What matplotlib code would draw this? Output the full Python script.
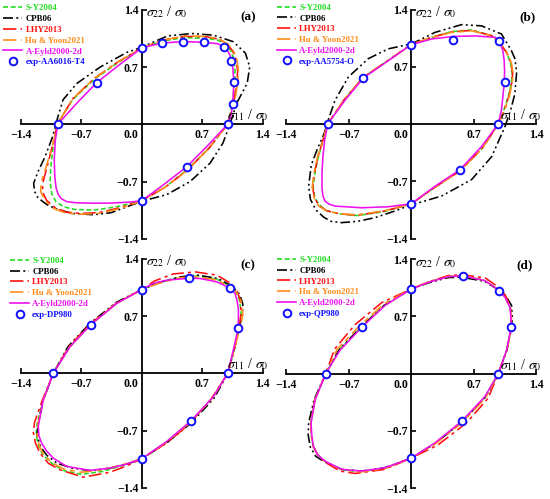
import matplotlib
matplotlib.use("Agg")
import matplotlib.pyplot as plt
from matplotlib.lines import Line2D

plt.rcParams['font.family'] = ['Liberation Serif', 'DejaVu Serif']
plt.rcParams['mathtext.fontset'] = 'stix'

# ---------------- data (normalized stresses) ----------------
TICKS = [-1.4, -0.7, 0.7, 1.4]
TICK_LABELS_X = ['\u22121.4', '\u22120.7', '0.7', '1.4']
TICK_LABELS_Y = ['\u22121.4', '\u22120.7', '0.7', '1.4']
MODEL_NAMES = ['S-Y2004', 'CPB06', 'LHY2013', 'Hu & Yoon2021', 'A-Eyld2000-2d']
PANEL_TAGS = ['(a)', '(b)', '(c)', '(d)']
EXP_NAMES = ['exp-AA6016-T4', 'exp-AA5754-O', 'exp-DP980', 'exp-QP980']

# ---- panel (a) AA6016-T4 ----
A_EXP_X = [0.0, 0.235, 0.479, 0.725, 0.948, 1.036, 1.064, 1.052, 0.994, 0.52, 0.0, -0.972, -0.52]
A_EXP_Y = [0.933, 0.994, 1.011, 1.003, 0.945, 0.775, 0.519, 0.251, 0.0, -0.52, -0.935, 0.0, 0.51]
A_EY_X = [0.994, 1.035, 1.054, 1.066, 1.055, 1.039, 1.015, 0.985, 0.948, 0.88, 0.725, 0.479, 0.235, 0.1, 0.0, -0.263, -0.52, -0.753, -0.972, -1.0, -1.012, -1.005, -0.99, -0.965, -0.93, -0.869, -0.75, -0.55, -0.35, -0.135, 0.0, 0.251, 0.52, 0.753, 0.994]
A_EY_Y = [0.0, 0.12, 0.251, 0.519, 0.68, 0.775, 0.86, 0.91, 0.945, 0.985, 1.003, 1.011, 0.994, 0.96, 0.933, 0.724, 0.51, 0.256, 0.0, -0.2, -0.435, -0.65, -0.78, -0.86, -0.91, -0.945, -0.96, -0.965, -0.963, -0.951, -0.935, -0.74, -0.52, -0.272, 0.0]
A_SY_X = [0.994, 1.05, 1.075, 1.08, 1.065, 1.03, 0.97, 0.88, 0.75, 0.5, 0.25, 0.0, -0.28, -0.55, -0.8, -0.98, -1.02, -1.05, -1.06, -1.04, -0.99, -0.9, -0.78, -0.56, -0.3, 0.0, 0.27, 0.53, 0.78, 0.994]
A_SY_Y = [0.0, 0.25, 0.5, 0.65, 0.8, 0.9, 0.98, 1.03, 1.05, 1.06, 1.02, 0.933, 0.75, 0.55, 0.3, 0.0, -0.25, -0.5, -0.7, -0.85, -0.95, -1.01, -1.04, -1.05, -1.01, -0.935, -0.77, -0.55, -0.29, 0.0]
A_HY_X = [0.994, 1.07, 1.11, 1.12, 1.1, 1.06, 1.0, 0.9, 0.75, 0.5, 0.25, 0.0, -0.28, -0.55, -0.8, -0.975, -1.03, -1.1, -1.16, -1.17, -1.12, -1.02, -0.88, -0.7, -0.5, -0.25, 0.0, 0.27, 0.53, 0.78, 0.994]
A_HY_Y = [0.0, 0.25, 0.5, 0.65, 0.8, 0.9, 0.98, 1.04, 1.075, 1.08, 1.03, 0.933, 0.76, 0.56, 0.31, 0.0, -0.25, -0.5, -0.7, -0.82, -0.93, -1.03, -1.085, -1.1, -1.09, -1.03, -0.935, -0.77, -0.56, -0.29, 0.0]
A_LHY_X = [0.994, 1.06, 1.1, 1.11, 1.09, 1.05, 0.99, 0.9, 0.75, 0.5, 0.25, 0.0, -0.28, -0.55, -0.8, -0.975, -1.03, -1.09, -1.14, -1.15, -1.1, -1.0, -0.87, -0.7, -0.5, -0.25, 0.0, 0.27, 0.53, 0.78, 0.994]
A_LHY_Y = [0.0, 0.25, 0.5, 0.65, 0.8, 0.9, 0.98, 1.04, 1.07, 1.075, 1.03, 0.933, 0.76, 0.56, 0.31, 0.0, -0.25, -0.5, -0.7, -0.82, -0.93, -1.02, -1.075, -1.09, -1.08, -1.02, -0.935, -0.77, -0.56, -0.29, 0.0]
A_CPB_X = [1.02, 1.1, 1.22, 1.25, 1.2, 1.06, 0.83, 0.58, 0.3, 0.1, 0.0, -0.17, -0.48, -0.75, -0.91, -0.97, -1.03, -1.12, -1.2, -1.25, -1.24, -1.2, -1.1, -0.98, -0.8, -0.56, -0.35, -0.15, 0.0, 0.29, 0.56, 0.79, 0.94, 1.02]
A_CPB_Y = [0.0, 0.26, 0.5, 0.7, 0.87, 1.01, 1.09, 1.11, 1.08, 0.99, 0.94, 0.88, 0.70, 0.5, 0.30, 0.09, -0.15, -0.4, -0.58, -0.72, -0.82, -0.9, -0.98, -1.04, -1.09, -1.106, -1.08, -1.0, -0.94, -0.86, -0.70, -0.476, -0.23, 0.0]

# ---- panel (b) AA5754-O ----
B_EXP_X = [0.0, 0.466, 0.978, 1.049, 0.974, 0.545, 0.0, -0.937, -0.537]
B_EXP_Y = [0.972, 1.028, 1.016, 0.514, 0.0, -0.559, -0.976, 0.0, 0.563]
B_EY_X = [0.974, 1.01, 1.04, 1.045, 1.04, 1.025, 1.0, 0.94, 0.71, 0.466, 0.23, 0.1, 0.0, -0.269, -0.537, -0.743, -0.937, -0.97, -0.99, -1.0, -1.0, -0.99, -0.966, -0.92, -0.854, -0.556, -0.257, 0.0, 0.265, 0.545, 0.787, 0.974]
B_EY_Y = [0.0, 0.17, 0.49, 0.65, 0.78, 0.9, 0.98, 1.06, 1.077, 1.07, 1.04, 1.0, 0.972, 0.765, 0.563, 0.29, 0.0, -0.194, -0.4, -0.6, -0.78, -0.88, -0.943, -0.98, -1.004, -1.024, -1.012, -0.976, -0.761, -0.559, -0.275, 0.0]
B_SY_X = [0.974, 1.03, 1.09, 1.12, 1.13, 1.11, 1.07, 1.0, 0.9, 0.675, 0.45, 0.2, 0.0, -0.27, -0.54, -0.75, -0.937, -0.99, -1.04, -1.08, -1.1, -1.08, -1.03, -0.95, -0.8, -0.6, -0.3, 0.0, 0.27, 0.55, 0.8, 0.974]
B_SY_Y = [0.0, 0.15, 0.35, 0.5, 0.62, 0.75, 0.87, 0.98, 1.08, 1.15, 1.13, 1.05, 0.972, 0.77, 0.57, 0.3, 0.0, -0.2, -0.4, -0.6, -0.77, -0.9, -0.99, -1.06, -1.1, -1.12, -1.07, -0.976, -0.77, -0.57, -0.29, 0.0]
B_HY_X = [0.974, 1.04, 1.1, 1.13, 1.14, 1.12, 1.07, 1.0, 0.9, 0.675, 0.45, 0.2, 0.0, -0.27, -0.54, -0.75, -0.937, -0.99, -1.05, -1.09, -1.11, -1.09, -1.04, -0.95, -0.8, -0.6, -0.3, 0.0, 0.27, 0.55, 0.8, 0.974]
B_HY_Y = [0.0, 0.15, 0.35, 0.5, 0.62, 0.75, 0.87, 0.98, 1.08, 1.14, 1.12, 1.05, 0.972, 0.77, 0.57, 0.3, 0.0, -0.2, -0.4, -0.6, -0.77, -0.9, -1.0, -1.06, -1.1, -1.11, -1.06, -0.976, -0.77, -0.57, -0.29, 0.0]
B_LHY_X = [0.974, 1.035, 1.095, 1.125, 1.135, 1.115, 1.07, 1.0, 0.9, 0.675, 0.45, 0.2, 0.0, -0.27, -0.54, -0.75, -0.937, -0.99, -1.045, -1.085, -1.105, -1.085, -1.035, -0.95, -0.8, -0.6, -0.3, 0.0, 0.27, 0.55, 0.8, 0.974]
B_LHY_Y = [0.0, 0.15, 0.35, 0.5, 0.62, 0.75, 0.87, 0.98, 1.08, 1.145, 1.125, 1.05, 0.972, 0.77, 0.57, 0.3, 0.0, -0.2, -0.4, -0.6, -0.77, -0.9, -0.995, -1.06, -1.1, -1.115, -1.065, -0.976, -0.77, -0.57, -0.29, 0.0]
B_CPB_X = [1.05, 1.12, 1.16, 1.18, 1.16, 1.12, 1.01, 0.787, 0.563, 0.265, 0.08, 0.0, -0.257, -0.48, -0.705, -0.854, -0.93, -0.97, -1.05, -1.12, -1.15, -1.13, -1.07, -0.98, -0.9, -0.78, -0.6, -0.41, -0.2, -0.03, 0.34, 0.675, 0.9, 1.05]
B_CPB_Y = [-0.03, 0.2, 0.37, 0.636, 0.8, 0.9, 1.1, 1.2, 1.215, 1.12, 1.02, 0.98, 0.919, 0.8, 0.575, 0.29, 0.05, -0.1, -0.3, -0.5, -0.76, -0.92, -1.05, -1.14, -1.19, -1.206, -1.19, -1.146, -1.07, -1.0, -0.88, -0.68, -0.4, -0.03]

# ---- panel (c) DP980 ----
C_EXP_X = [0.0, 0.548, 1.019, 1.116, 0.996, 0.571, 0.0, -1.023, -0.591]
C_EXP_Y = [1.024, 1.163, 1.045, 0.549, 0.0, -0.581, -1.045, 0.0, 0.593]
C_EY_X = [0.996, 1.06, 1.116, 1.12, 1.105, 1.081, 1.019, 0.869, 0.676, 0.548, 0.29, 0.135, 0.0, -0.29, -0.591, -0.83, -1.023, -1.139, -1.197, -1.19, -1.158, -1.1, -1.023, -0.869, -0.598, -0.367, -0.174, 0.0, 0.29, 0.571, 0.83, 0.996]
C_EY_Y = [0.0, 0.285, 0.549, 0.772, 0.88, 0.976, 1.045, 1.118, 1.159, 1.163, 1.138, 1.1, 1.024, 0.854, 0.593, 0.325, 0.0, -0.325, -0.65, -0.76, -0.854, -0.95, -1.037, -1.138, -1.187, -1.159, -1.11, -1.045, -0.833, -0.581, -0.285, 0.0]
C_SY_X = [0.996, 1.07, 1.13, 1.15, 1.13, 1.09, 1.02, 0.87, 0.65, 0.45, 0.2, 0.0, -0.29, -0.59, -0.83, -1.023, -1.14, -1.21, -1.22, -1.19, -1.14, -1.03, -0.9, -0.7, -0.45, -0.2, 0.0, 0.29, 0.571, 0.82, 0.996]
C_SY_Y = [0.0, 0.29, 0.56, 0.75, 0.9, 1.0, 1.07, 1.15, 1.19, 1.18, 1.11, 1.024, 0.855, 0.595, 0.325, 0.0, -0.33, -0.62, -0.76, -0.9, -1.0, -1.11, -1.19, -1.235, -1.2, -1.12, -1.045, -0.84, -0.59, -0.3, 0.0]
C_HY_X = [0.996, 1.07, 1.14, 1.17, 1.15, 1.1, 1.02, 0.87, 0.65, 0.45, 0.2, 0.0, -0.29, -0.59, -0.83, -1.023, -1.14, -1.2, -1.21, -1.18, -1.13, -1.03, -0.9, -0.7, -0.45, -0.2, 0.0, 0.29, 0.571, 0.82, 0.996]
C_HY_Y = [0.0, 0.29, 0.56, 0.72, 0.88, 0.99, 1.06, 1.14, 1.18, 1.17, 1.1, 1.024, 0.855, 0.595, 0.325, 0.0, -0.33, -0.62, -0.76, -0.9, -1.0, -1.1, -1.17, -1.21, -1.18, -1.11, -1.045, -0.84, -0.59, -0.3, 0.0]
C_LHY_X = [0.996, 1.07, 1.13, 1.15, 1.14, 1.1, 1.03, 0.87, 0.62, 0.367, 0.15, 0.0, -0.29, -0.6, -0.84, -1.023, -1.15, -1.24, -1.255, -1.23, -1.178, -1.08, -0.946, -0.676, -0.367, -0.17, 0.0, 0.29, 0.52, 0.8, 0.996]
C_LHY_Y = [0.0, 0.29, 0.56, 0.75, 0.9, 1.01, 1.1, 1.2, 1.24, 1.215, 1.13, 1.024, 0.86, 0.6, 0.33, 0.0, -0.33, -0.6, -0.72, -0.85, -0.976, -1.1, -1.18, -1.27, -1.21, -1.13, -1.045, -0.85, -0.65, -0.32, 0.0]
C_CPB_X = [0.996, 1.07, 1.13, 1.165, 1.17, 1.13, 1.04, 0.88, 0.65, 0.45, 0.2, 0.0, -0.29, -0.6, -0.85, -1.023, -1.14, -1.2, -1.21, -1.17, -1.1, -0.98, -0.8, -0.6, -0.37, -0.17, 0.0, 0.29, 0.58, 0.84, 0.996]
C_CPB_Y = [0.0, 0.29, 0.56, 0.72, 0.85, 0.97, 1.07, 1.16, 1.2, 1.18, 1.11, 1.024, 0.87, 0.61, 0.33, 0.0, -0.33, -0.62, -0.76, -0.9, -1.0, -1.1, -1.16, -1.19, -1.16, -1.11, -1.045, -0.85, -0.6, -0.3, 0.0]

# ---- panel (d) QP980 ----
D_EXP_X = [0.0, 0.575, 0.985, 1.119, 0.974, 0.567, 0.0, -0.959, -0.552]
D_EXP_Y = [1.036, 1.198, 1.016, 0.567, 0.0, -0.579, -1.032, 0.0, 0.571]
D_EY_X = [0.974, 1.067, 1.119, 1.115, 1.104, 1.049, 0.985, 0.825, 0.575, 0.414, 0.19, 0.0, -0.295, -0.552, -0.799, -0.959, -1.078, -1.123, -1.115, -1.097, -1.05, -0.966, -0.78, -0.556, -0.295, 0.0, 0.265, 0.567, 0.825, 0.974]
D_EY_Y = [0.0, 0.287, 0.567, 0.7, 0.814, 0.935, 1.016, 1.138, 1.198, 1.186, 1.117, 1.036, 0.834, 0.571, 0.287, 0.0, -0.32, -0.603, -0.75, -0.887, -0.99, -1.069, -1.17, -1.19, -1.15, -1.032, -0.846, -0.579, -0.279, 0.0]
D_SY_X = [0.974, 1.07, 1.12, 1.12, 1.105, 1.05, 0.985, 0.82, 0.575, 0.41, 0.19, 0.0, -0.3, -0.56, -0.81, -0.959, -1.08, -1.125, -1.12, -1.1, -1.05, -0.97, -0.78, -0.556, -0.3, 0.0, 0.27, 0.567, 0.825, 0.974]
D_SY_Y = [0.0, 0.287, 0.567, 0.7, 0.814, 0.935, 1.02, 1.14, 1.2, 1.19, 1.12, 1.036, 0.84, 0.575, 0.29, 0.0, -0.32, -0.603, -0.75, -0.887, -0.99, -1.07, -1.175, -1.2, -1.16, -1.032, -0.846, -0.585, -0.285, 0.0]
D_HY_X = [0.974, 1.07, 1.12, 1.12, 1.105, 1.05, 0.985, 0.82, 0.575, 0.41, 0.19, 0.0, -0.31, -0.58, -0.83, -0.959, -1.08, -1.125, -1.12, -1.1, -1.05, -0.97, -0.78, -0.556, -0.3, 0.0, 0.28, 0.58, 0.835, 0.974]
D_HY_Y = [0.0, 0.287, 0.567, 0.7, 0.814, 0.935, 1.02, 1.14, 1.2, 1.19, 1.12, 1.036, 0.85, 0.585, 0.3, 0.0, -0.32, -0.603, -0.75, -0.887, -0.99, -1.07, -1.175, -1.2, -1.16, -1.032, -0.85, -0.59, -0.29, 0.0]
D_LHY_X = [0.974, 1.07, 1.12, 1.12, 1.11, 1.06, 1.0, 0.83, 0.575, 0.41, 0.19, 0.0, -0.33, -0.63, -0.86, -0.959, -1.08, -1.125, -1.12, -1.1, -1.05, -0.97, -0.8, -0.63, -0.3, 0.0, 0.3, 0.62, 0.86, 0.974]
D_LHY_Y = [0.0, 0.287, 0.567, 0.7, 0.82, 0.945, 1.04, 1.17, 1.21, 1.2, 1.12, 1.036, 0.87, 0.6, 0.3, 0.0, -0.32, -0.603, -0.75, -0.887, -0.99, -1.08, -1.19, -1.22, -1.17, -1.032, -0.87, -0.6, -0.3, 0.0]
D_CPB_X = [0.974, 1.07, 1.125, 1.13, 1.123, 1.06, 0.985, 0.82, 0.56, 0.41, 0.19, 0.0, -0.3, -0.56, -0.81, -0.959, -1.09, -1.15, -1.155, -1.13, -1.07, -0.97, -0.78, -0.556, -0.3, 0.0, 0.27, 0.567, 0.83, 0.974]
D_CPB_Y = [0.0, 0.287, 0.567, 0.7, 0.834, 0.95, 1.02, 1.13, 1.18, 1.175, 1.11, 1.036, 0.84, 0.575, 0.29, 0.0, -0.32, -0.603, -0.75, -0.9, -1.01, -1.08, -1.17, -1.19, -1.15, -1.032, -0.85, -0.59, -0.29, 0.0]

# ---------------- styles ----------------
COLORS = ['#22DD22', '#000000', '#FF1010', '#FF8C1A', '#EE10EE']
STYLES = [(0, (3, 1.6)), (0, (6, 2, 1.2, 2, 1.2, 2)), (0, (8, 2.5, 2, 2.5)),
          (0, (8, 3, 3, 3)), '-']
EXP_COLOR = '#1010FF'

PANELS = [
    ([(A_SY_X, A_SY_Y), (A_CPB_X, A_CPB_Y), (A_LHY_X, A_LHY_Y), (A_HY_X, A_HY_Y), (A_EY_X, A_EY_Y)], (A_EXP_X, A_EXP_Y)),
    ([(B_SY_X, B_SY_Y), (B_CPB_X, B_CPB_Y), (B_LHY_X, B_LHY_Y), (B_HY_X, B_HY_Y), (B_EY_X, B_EY_Y)], (B_EXP_X, B_EXP_Y)),
    ([(C_SY_X, C_SY_Y), (C_CPB_X, C_CPB_Y), (C_LHY_X, C_LHY_Y), (C_HY_X, C_HY_Y), (C_EY_X, C_EY_Y)], (C_EXP_X, C_EXP_Y)),
    ([(D_SY_X, D_SY_Y), (D_CPB_X, D_CPB_Y), (D_LHY_X, D_LHY_Y), (D_HY_X, D_HY_Y), (D_EY_X, D_EY_Y)], (D_EXP_X, D_EXP_Y)),
]

W, H = 550, 499
fig = plt.figure(figsize=(W / 100, H / 100), dpi=100)
# pixel rectangles (left, top, right, bottom) of the ±1.4 square in each panel
RECTS = [(20.7, 9.8, 262.7, 238.8), (286.3, 9.5, 536.3, 238.5),
         (20.7, 258.8, 262.7, 487.8), (286.3, 259.2, 536.3, 488.2)]
LEG_ANCHORS = [(2.3, 3.5), (276.0, 2.8), (9.0, 256.0), (276.0, 255.0)]
TAG_POS = [(1.23, 1.31), (1.3, 1.31), (1.23, 1.32), (1.27, 1.32)]

tick_font = dict(family='Liberation Serif', weight='bold', size=8.6)

for i, (curves, exp) in enumerate(PANELS):
    l, t, r, b = RECTS[i]
    ax = fig.add_axes([l / W, 1 - b / H, (r - l) / W, (b - t) / H])
    ax.set_xlim(-1.4, 1.4)
    ax.set_ylim(-1.4, 1.4)
    ax.patch.set_alpha(0)
    for s in ['top', 'right']:
        ax.spines[s].set_visible(False)
    for s in ['left', 'bottom']:
        ax.spines[s].set_position('zero')
        ax.spines[s].set_linewidth(1.3)
    ax.set_xticks(TICKS)
    ax.set_xticklabels(TICK_LABELS_X, fontdict=tick_font)
    ax.set_yticks(TICKS)
    ax.set_yticklabels(TICK_LABELS_Y, fontdict=tick_font)
    ax.tick_params(direction='in', length=3.5, width=1.2)
    ax.tick_params(axis='x', pad=3.6)
    ax.tick_params(axis='y', pad=2.4)
    ax.annotate('0.0', xy=(0, 0), xycoords='data', xytext=(-7.5, -3.6),
                textcoords='offset points', ha='center', va='top', **tick_font)

    handles = []
    for (xs, ys), c, ls, name in zip(curves, COLORS, STYLES, MODEL_NAMES):
        ax.plot(xs, ys, color=c, linestyle=ls, lw=1.15, clip_on=False, zorder=3 if ls == '-' else 2)
        handles.append(Line2D([], [], color=c, linestyle=ls, lw=1.2))
    ax.plot(exp[0], exp[1], 'o', ms=5.5, mfc='white', mec=EXP_COLOR, mew=1.4,
            linestyle='none', clip_on=False, zorder=4)
    handles.append(Line2D([], [], marker='o', ms=5.5, mfc='white', mec=EXP_COLOR,
                          mew=1.4, linestyle='none'))

    lx, ly = LEG_ANCHORS[i]
    leg = ax.legend(handles, MODEL_NAMES + [EXP_NAMES[i]], loc='upper left',
                    bbox_to_anchor=(lx / W, 1 - ly / H),
                    bbox_transform=fig.transFigure, frameon=False,
                    prop=dict(family='Liberation Serif', weight='bold', size=6.3),
                    handlelength=2.2, handletextpad=0.35, labelspacing=0.3,
                    borderpad=0.1, borderaxespad=0)
    for txt, c in zip(leg.get_texts(), COLORS + [EXP_COLOR]):
        txt.set_color(c)

    ax.annotate(r'$\sigma_{22}$ / $\sigma_0$', xy=(0, 1.4), xycoords='data',
                xytext=(3, -2), textcoords='offset points', ha='left', va='center', fontsize=10)
    ax.annotate(r'$\sigma_{11}$ / $\sigma_0$', xy=(1.4, 0), xycoords='data',
                xytext=(4, 6.5), textcoords='offset points', ha='right', va='center', fontsize=10)
    ax.text(TAG_POS[i][0], TAG_POS[i][1], PANEL_TAGS[i], ha='center', va='center',
            family='Liberation Serif', weight='bold', fontsize=9.5)

fig.savefig('out.png', dpi=100)
